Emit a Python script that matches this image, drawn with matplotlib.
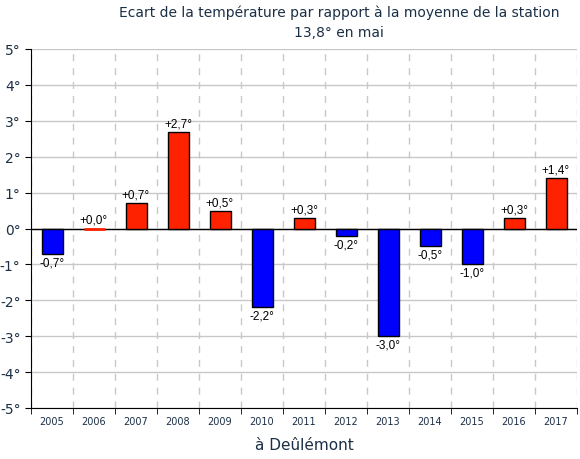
import numpy as np
from matplotlib import pyplot as plt

years = ['2005', '2006', '2007', '2008', '2009', '2010', '2011',
         '2012', '2013', '2014', '2015', '2016', '2017']
ecarts = [-0.7, 0.0, 0.7, 2.7, 0.5, -2.2, 0.3, -0.2, -3.0, -0.5, -1.0, 0.3, 1.4]
yTicks = [-5, -4, -3, -2, -1, 0, 1, 2, 3, 4, 5]

navy = '#1b2f45'
red = '#ff2200'
blue = '#0000ff'

fig = plt.figure(figsize=(5.8, 4.6), dpi=100)
ax = fig.add_axes([31/580, 1 - 409/460, 546/580, 359/460])

x = np.arange(len(years))
colors = [red if v >= 0 else blue for v in ecarts]
edges = ['black' if v != 0 else red for v in ecarts]
widths = [1 if v != 0 else 2 for v in ecarts]
ax.bar(x, ecarts, width=0.5, color=colors, edgecolor=edges, linewidth=widths, zorder=3)

for xi, v in zip(x, ecarts):
    label = ('+' if v >= 0 else '') + ('%.1f' % v).replace('.', ',') + '°'
    if v >= 0:
        ax.text(xi, v + 0.07, label, ha='center', va='bottom', fontsize=8.5,
                family='Liberation Sans', zorder=4)
    else:
        ax.text(xi, v - 0.07, label, ha='center', va='top', fontsize=8.5,
                family='Liberation Sans', zorder=4)

ax.axhline(0, color='black', linewidth=1, zorder=2.5)

ax.set_xlim(-0.5, len(years) - 0.5)
ax.set_ylim(-5, 5)
ax.set_yticks(yTicks)
ax.set_yticklabels(['%d°' % t for t in yTicks], color=navy, fontsize=10)
ax.set_xticks(x)
ax.set_xticklabels(years, color=navy, fontsize=7)
ax.set_xticks(np.arange(len(years) + 1) - 0.5, minor=True)
ax.tick_params(axis='x', which='major', length=0, pad=6)
ax.tick_params(axis='x', which='minor', length=4, color='black')
ax.tick_params(axis='y', length=4, color='black')

ax.grid(axis='y', which='major', color='#c8c8c8', linewidth=1, zorder=0)
ax.grid(axis='x', which='minor', color='#c8c8c8', linewidth=1,
        linestyle=(0, (5, 5)), zorder=0)

ax.spines['top'].set_visible(False)
ax.spines['right'].set_visible(False)
ax.spines['left'].set_color('black')
ax.spines['bottom'].set_color('black')

fig.text(0.585, 1 - 13/460, 'Ecart de la température par rapport à la moyenne de la station',
         ha='center', va='center', fontsize=10, color=navy)
fig.text(0.585, 1 - 33/460, '13,8° en mai', ha='center', va='center', fontsize=10, color=navy)
ax.set_xlabel('à Deûlémont', color=navy, fontsize=11, labelpad=8)

plt.savefig('out.png', dpi=100)
